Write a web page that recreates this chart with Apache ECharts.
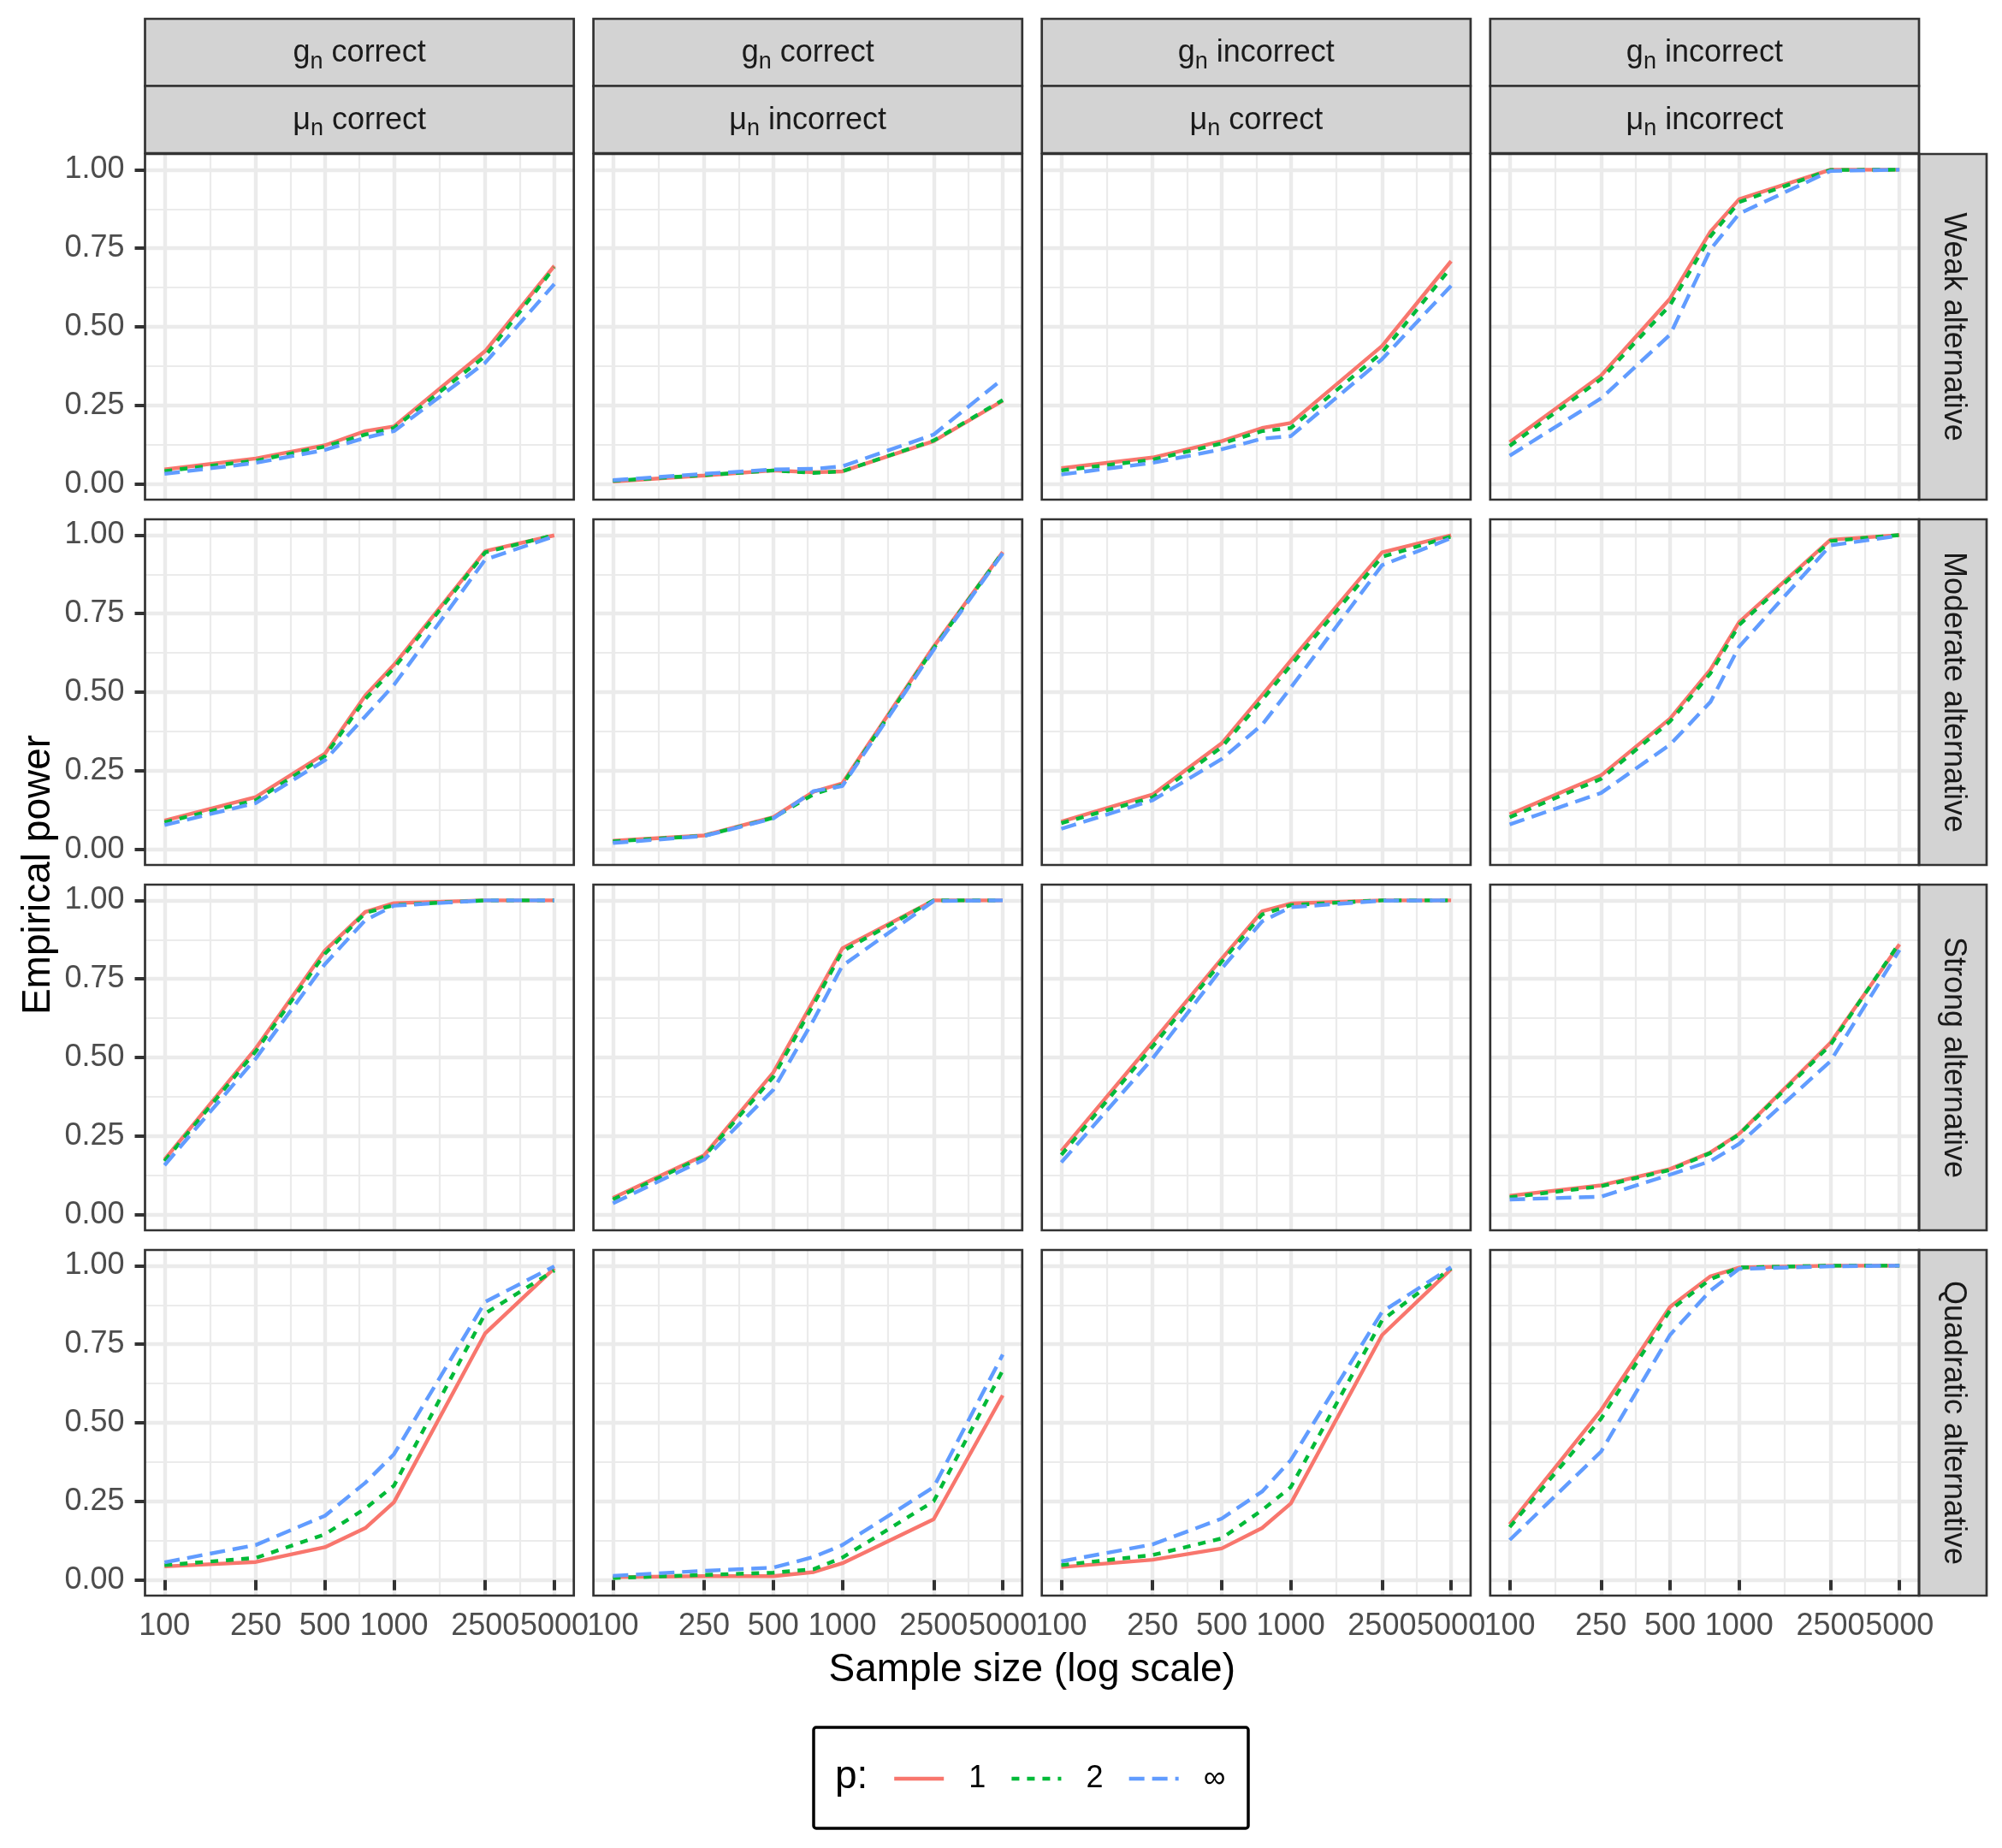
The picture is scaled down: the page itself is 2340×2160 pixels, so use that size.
<!DOCTYPE html>
<html>
<head>
<meta charset="utf-8">
<script src="https://cdn.jsdelivr.net/npm/echarts@6/dist/echarts.min.js"></script>
<style>
html, body { margin: 0; padding: 0; background: #fff; }
#chart { width: 2340px; height: 2160px; }
</style>
</head>
<body>
<div id="chart"></div>
<script>
// sample sizes (x) and axis breaks
const SIZES = [100, 250, 500, 750, 1000, 2500, 5000];
const X_TICKS = [100, 250, 500, 1000, 2500, 5000];
const Y_TICKS = [0, 0.25, 0.5, 0.75, 1];

const ROW_LABELS = ['Weak alternative', 'Moderate alternative', 'Strong alternative', 'Quadratic alternative'];
const G_LABELS = ['correct', 'correct', 'incorrect', 'incorrect'];
const MU_LABELS = ['correct', 'incorrect', 'correct', 'incorrect'];
const P_NAMES = ['1', '2', '∞'];

// empirical power, one array per panel column (g/mu combos)
const WEAK_P1 = [
  [0.046, 0.081, 0.123, 0.168, 0.183, 0.423, 0.694],
  [0.008, 0.027, 0.043, 0.037, 0.040, 0.136, 0.265],
  [0.050, 0.084, 0.136, 0.178, 0.194, 0.439, 0.709],
  [0.133, 0.345, 0.590, 0.803, 0.906, 1.000, 1.000]
];
const WEAK_P2 = [
  [0.041, 0.074, 0.119, 0.157, 0.178, 0.407, 0.689],
  [0.010, 0.028, 0.043, 0.035, 0.040, 0.138, 0.267],
  [0.043, 0.077, 0.129, 0.168, 0.178, 0.418, 0.689],
  [0.121, 0.334, 0.569, 0.788, 0.897, 0.999, 1.000]
];
const WEAK_PINF = [
  [0.032, 0.067, 0.108, 0.147, 0.168, 0.386, 0.636],
  [0.012, 0.032, 0.046, 0.048, 0.056, 0.157, 0.334],
  [0.030, 0.067, 0.110, 0.144, 0.152, 0.397, 0.631],
  [0.090, 0.272, 0.475, 0.746, 0.860, 0.996, 1.000]
];
const MOD_P1 = [
  [0.091, 0.166, 0.304, 0.489, 0.587, 0.949, 0.999],
  [0.027, 0.044, 0.102, 0.183, 0.210, 0.645, 0.946],
  [0.088, 0.174, 0.337, 0.490, 0.600, 0.945, 0.999],
  [0.111, 0.235, 0.416, 0.572, 0.723, 0.985, 1.000]
];
const MOD_P2 = [
  [0.086, 0.156, 0.296, 0.478, 0.577, 0.945, 1.000],
  [0.025, 0.043, 0.100, 0.175, 0.205, 0.640, 0.945],
  [0.083, 0.165, 0.325, 0.475, 0.585, 0.931, 0.995],
  [0.102, 0.224, 0.407, 0.560, 0.714, 0.981, 1.000]
];
const MOD_PINF = [
  [0.077, 0.147, 0.283, 0.423, 0.523, 0.922, 0.996],
  [0.020, 0.042, 0.098, 0.185, 0.201, 0.635, 0.942],
  [0.065, 0.156, 0.287, 0.396, 0.514, 0.904, 0.990],
  [0.079, 0.179, 0.333, 0.469, 0.645, 0.967, 0.998]
];
const STRONG_P1 = [
  [0.175, 0.529, 0.840, 0.963, 0.991, 1.000, 1.000],
  [0.053, 0.189, 0.452, 0.682, 0.847, 1.000, 1.000],
  [0.202, 0.549, 0.814, 0.965, 0.990, 1.000, 1.000],
  [0.060, 0.093, 0.145, 0.198, 0.257, 0.547, 0.860]
];
const STRONG_P2 = [
  [0.170, 0.520, 0.830, 0.960, 0.985, 1.000, 1.000],
  [0.048, 0.185, 0.438, 0.670, 0.838, 1.000, 1.000],
  [0.190, 0.535, 0.805, 0.955, 0.985, 1.000, 1.000],
  [0.055, 0.090, 0.142, 0.196, 0.255, 0.540, 0.865]
];
const STRONG_PINF = [
  [0.157, 0.497, 0.797, 0.937, 0.983, 1.000, 1.000],
  [0.036, 0.175, 0.397, 0.620, 0.792, 0.998, 1.000],
  [0.166, 0.497, 0.783, 0.933, 0.978, 0.999, 1.000],
  [0.048, 0.057, 0.127, 0.170, 0.225, 0.488, 0.842]
];
const QUAD_P1 = [
  [0.043, 0.057, 0.104, 0.165, 0.247, 0.785, 0.992],
  [0.009, 0.012, 0.012, 0.025, 0.053, 0.193, 0.587],
  [0.041, 0.064, 0.100, 0.165, 0.243, 0.779, 0.989],
  [0.177, 0.540, 0.869, 0.966, 0.994, 1.000, 1.000]
];
const QUAD_P2 = [
  [0.047, 0.070, 0.145, 0.227, 0.300, 0.848, 0.985],
  [0.006, 0.016, 0.023, 0.034, 0.071, 0.250, 0.667],
  [0.047, 0.079, 0.132, 0.222, 0.295, 0.826, 0.992],
  [0.168, 0.513, 0.858, 0.957, 0.994, 1.000, 1.000]
];
const QUAD_PINF = [
  [0.056, 0.111, 0.204, 0.309, 0.400, 0.885, 0.998],
  [0.013, 0.029, 0.039, 0.073, 0.111, 0.295, 0.717],
  [0.059, 0.113, 0.195, 0.281, 0.381, 0.853, 0.995],
  [0.127, 0.408, 0.780, 0.921, 0.990, 0.998, 1.000]
];

const ROW_DATA = [
  [WEAK_P1, WEAK_P2, WEAK_PINF],
  [MOD_P1, MOD_P2, MOD_PINF],
  [STRONG_P1, STRONG_P2, STRONG_PINF],
  [QUAD_P1, QUAD_P2, QUAD_PINF]
];

const P_COLORS = ['#F8766D', '#00BA38', '#619CFF'];
const P_DASH = ['solid', [9, 9], [18, 9]];
const FONT = '"Liberation Sans", Arial, Helvetica, sans-serif';
const STRIP_FILL = '#D3D3D3';

// layout (px)
const PANEL_LEFT = 169.5, PANEL_TOP = 180;
const PANEL_W = 501.2, PANEL_H = 404;
const STEP_X = 524.1, STEP_Y = 427;
const STRIP_H = 78.5, STRIP_W = 79;

const log10 = Math.log10;
const xLo = log10(SIZES[0]), xHi = log10(SIZES[SIZES.length - 1]);
const xPad = (xHi - xLo) * 0.05;
const X_MIN = xLo - xPad, X_MAX = xHi + xPad;
const Y_MIN = -0.05, Y_MAX = 1.05;
const xMajor = X_TICKS.map(log10);
const xMinor = X_TICKS.slice(1).map((t, i) => (log10(t) + log10(X_TICKS[i])) / 2);
const yMinor = Y_TICKS.slice(1).map((t, i) => (t + Y_TICKS[i]) / 2);

const grids = [], xAxes = [], yAxes = [], series = [], graphics = [];

for (let r = 0; r < 4; r++) {
  for (let c = 0; c < 4; c++) {
    const i = r * 4 + c;
    const left = PANEL_LEFT + STEP_X * c;
    const top = PANEL_TOP + STEP_Y * r;
    grids.push({ left: left, top: top, width: PANEL_W, height: PANEL_H, show: false, outerBoundsMode: 'none' });

    const bottomRow = r === 3, leftCol = c === 0;
    xAxes.push({
      type: 'value', gridIndex: i, min: X_MIN, max: X_MAX, position: 'bottom',
      axisLine: { show: false },
      axisTick: { show: bottomRow, length: 12, customValues: xMajor, lineStyle: { color: '#333333', width: 4 } },
      axisLabel: {
        show: bottomRow, customValues: xMajor, hideOverlap: false, margin: 18,
        formatter: v => String(Math.round(Math.pow(10, v))),
        fontSize: 36, color: '#4D4D4D', fontFamily: FONT
      },
      splitLine: { show: true, lineStyle: { color: '#EBEBEB', width: 4.4 } }
    });
    xAxes.push({
      type: 'value', gridIndex: i, min: X_MIN, max: X_MAX, position: 'top',
      axisLine: { show: false },
      axisTick: { show: false, customValues: xMinor },
      axisLabel: { show: false },
      splitLine: { show: true, lineStyle: { color: '#EBEBEB', width: 2.2 } }
    });
    yAxes.push({
      type: 'value', gridIndex: i, min: Y_MIN, max: Y_MAX, position: 'left',
      axisLine: { show: false },
      axisTick: { show: leftCol, length: 12, customValues: Y_TICKS, lineStyle: { color: '#333333', width: 4 } },
      axisLabel: {
        show: leftCol, customValues: Y_TICKS, hideOverlap: false, margin: 24,
        formatter: v => v.toFixed(2),
        fontSize: 36, color: '#4D4D4D', fontFamily: FONT
      },
      splitLine: { show: true, lineStyle: { color: '#EBEBEB', width: 4.4 } }
    });
    yAxes.push({
      type: 'value', gridIndex: i, min: Y_MIN, max: Y_MAX, position: 'right',
      axisLine: { show: false },
      axisTick: { show: false, customValues: yMinor },
      axisLabel: { show: false },
      splitLine: { show: true, lineStyle: { color: '#EBEBEB', width: 2.2 } }
    });

    ROW_DATA[r].forEach((pSet, k) => {
      series.push({
        type: 'line', name: P_NAMES[k],
        xAxisIndex: i * 2, yAxisIndex: i * 2,
        data: SIZES.map((n, j) => [log10(n), pSet[c][j]]),
        symbol: 'none', silent: true,
        lineStyle: { color: P_COLORS[k], width: 4.4, type: P_DASH[k], cap: 'butt' },
        itemStyle: { color: P_COLORS[k] },
        z: 2 + k
      });
    });

    // panel border
    graphics.push({
      type: 'rect', z: 100,
      shape: { x: left, y: top, width: PANEL_W, height: PANEL_H },
      style: { fill: null, stroke: '#333333', lineWidth: 2.7 }
    });
  }
}

// top strips (two rows of facet labels)
const subRich = {
  m: { fontSize: 36, fill: '#1A1A1A', fontFamily: FONT },
  s: { fontSize: 27, fill: '#1A1A1A', fontFamily: FONT, padding: [20, 0, 0, 0] }
};
for (let c = 0; c < 4; c++) {
  const left = PANEL_LEFT + STEP_X * c;
  const y0 = PANEL_TOP - 2 * STRIP_H - 1;
  [['g', G_LABELS[c]], ['μ', MU_LABELS[c]]].forEach((lab, k) => {
    const y = y0 + k * STRIP_H;
    graphics.push({
      type: 'rect', z: 90,
      shape: { x: left, y: y, width: PANEL_W, height: STRIP_H },
      style: { fill: STRIP_FILL, stroke: '#333333', lineWidth: 2.7 }
    });
    graphics.push({
      type: 'text', z: 95, x: left + PANEL_W / 2, y: y + STRIP_H / 2 + 1,
      style: {
        text: '{m|' + lab[0] + '}{s|n}{m| ' + lab[1] + '}',
        rich: subRich, align: 'center', verticalAlign: 'middle'
      }
    });
  });
}

// right strips (row labels)
for (let r = 0; r < 4; r++) {
  const top = PANEL_TOP + STEP_Y * r;
  const x0 = PANEL_LEFT + STEP_X * 3 + PANEL_W;
  graphics.push({
    type: 'rect', z: 90,
    shape: { x: x0, y: top, width: STRIP_W, height: PANEL_H },
    style: { fill: STRIP_FILL, stroke: '#333333', lineWidth: 2.7 }
  });
  graphics.push({
    type: 'text', z: 95, x: x0 + STRIP_W / 2, y: top + PANEL_H / 2, rotation: -Math.PI / 2,
    style: {
      text: ROW_LABELS[r], fontSize: 36, fill: '#1A1A1A', fontFamily: FONT,
      align: 'center', verticalAlign: 'middle'
    }
  });
}

const plotMidX = PANEL_LEFT + (STEP_X * 3 + PANEL_W) / 2;
const plotMidY = PANEL_TOP + (STEP_Y * 3 + PANEL_H) / 2;

// axis titles
graphics.push({
  type: 'text', x: plotMidX, y: 1952,
  style: { text: 'Sample size (log scale)', fontSize: 46, fill: '#000', fontFamily: FONT, align: 'center', verticalAlign: 'middle' }
});
graphics.push({
  type: 'text', x: 45, y: plotMidY, rotation: Math.PI / 2,
  style: { text: 'Empirical power', fontSize: 46, fill: '#000', fontFamily: FONT, align: 'center', verticalAlign: 'middle' }
});

// legend frame and title
graphics.push({
  type: 'rect', z: 50,
  shape: { x: 951, y: 2019, width: 508, height: 118, r: 3 },
  style: { fill: '#fff', stroke: '#000', lineWidth: 3.5 }
});
graphics.push({
  type: 'text', z: 60, x: 976, y: 2077,
  style: { text: 'p:', fontSize: 46, fill: '#000', fontFamily: FONT, align: 'left', verticalAlign: 'middle' }
});

const chart = echarts.init(document.getElementById('chart'), null, { renderer: 'canvas' });
chart.setOption({
  backgroundColor: '#fff',
  animation: false,
  grid: grids,
  xAxis: xAxes,
  yAxis: yAxes,
  series: series,
  graphic: graphics,
  legend: {
    data: P_NAMES, left: 1043, top: 2061, orient: 'horizontal', padding: 0, z: 70,
    itemWidth: 58, itemHeight: 20, itemGap: 28, selectedMode: false,
    lineStyle: { width: 4.4 },
    itemStyle: { opacity: 0, borderWidth: 0 },
    formatter: n => '{t|' + n + '}',
    textStyle: {
      color: '#000', fontFamily: FONT, fontSize: 36,
      rich: { t: { fontSize: 36, color: '#000', fontFamily: FONT, padding: [0, 0, 0, 24] } }
    }
  }
});
</script>
</body>
</html>
